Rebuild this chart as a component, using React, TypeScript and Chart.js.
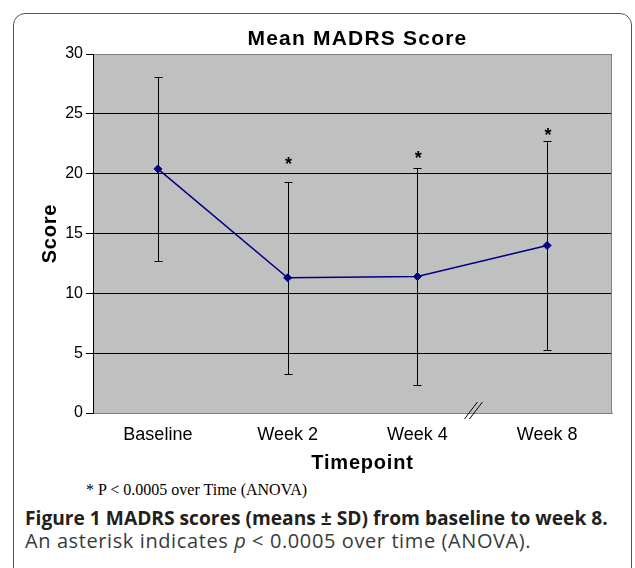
import React, { useEffect, useRef } from 'react';
import { Chart, registerables } from 'chart.js';

Chart.register(...registerables);

const categories = ['Baseline', 'Week 2', 'Week 4', 'Week 8'];
const meanScores = [20.4, 11.3, 11.4, 14.0];
const sdScores = [7.7, 8.0, 9.1, 8.7];
const yTicks = [0, 5, 10, 15, 20, 25, 30];
const asteriskLevels: (number | null)[] = [null, 21.2, 21.7, 23.6];

const chartTitle = 'Mean MADRS Score';
const yTitle = 'Score';
const xTitle = 'Timepoint';
const footnote = '* P < 0.0005 over Time (ANOVA)';
const captionBold = 'Figure 1 MADRS scores (means ± SD) from baseline to week 8.';

const SANS = '"Liberation Sans", Arial, Helvetica, sans-serif';

const decorPlugin = {
  id: 'decor',
  beforeDraw(chart: any) {
    const { ctx, chartArea: a } = chart;
    ctx.save();
    ctx.fillStyle = '#c0c0c0';
    ctx.fillRect(a.left, a.top, a.right - a.left, a.bottom - a.top);
    ctx.restore();
  },
  beforeDatasetsDraw(chart: any) {
    const { ctx, scales } = chart;
    const xs = scales.x;
    const ys = scales.y;
    ctx.save();
    ctx.strokeStyle = '#000000';
    ctx.lineWidth = 1;
    meanScores.forEach((m, i) => {
      const x = Math.round(xs.getPixelForValue(i)) + 0.5;
      const yt = Math.round(ys.getPixelForValue(m + sdScores[i])) + 0.5;
      const yb = Math.round(ys.getPixelForValue(m - sdScores[i])) + 0.5;
      ctx.beginPath();
      ctx.moveTo(x, yt);
      ctx.lineTo(x, yb);
      ctx.moveTo(x - 4, yt);
      ctx.lineTo(x + 4, yt);
      ctx.moveTo(x - 4, yb);
      ctx.lineTo(x + 4, yb);
      ctx.stroke();
    });
    ctx.restore();
  },
  afterDatasetsDraw(chart: any) {
    const { ctx, scales, chartArea: a } = chart;
    const xs = scales.x;
    const ys = scales.y;
    ctx.save();
    // right border of plot area
    ctx.strokeStyle = '#808080';
    ctx.lineWidth = 1;
    ctx.beginPath();
    ctx.moveTo(Math.round(a.right) - 0.5, a.top);
    ctx.lineTo(Math.round(a.right) - 0.5, a.bottom);
    ctx.stroke();

    // asterisks
    ctx.fillStyle = '#000000';
    ctx.font = 'bold 18px ' + SANS;
    ctx.textAlign = 'center';
    ctx.textBaseline = 'alphabetic';
    asteriskLevels.forEach((lvl, i) => {
      if (lvl === null) return;
      const x = xs.getPixelForValue(i) + 1;
      const y = ys.getPixelForValue(lvl);
      ctx.fillText('*', x, y + 0.58 * 18);
    });

    // axis break mark between Week 4 and Week 8
    const x4 = xs.getPixelForValue(2);
    const x8 = xs.getPixelForValue(3);
    const cx = x4 + (x8 - x4) * 0.44;
    const by = a.bottom;
    ctx.strokeStyle = '#000000';
    ctx.lineWidth = 1;
    ctx.beginPath();
    ctx.moveTo(cx - 10, by + 6);
    ctx.lineTo(cx + 3, by - 11);
    ctx.moveTo(cx - 5, by + 6);
    ctx.lineTo(cx + 8, by - 11);
    ctx.stroke();

    // chart title
    const cxArea = (a.left + a.right) / 2;
    ctx.textBaseline = 'middle';
    ctx.textAlign = 'center';
    (ctx as any).letterSpacing = '1.2px';
    ctx.font = 'bold 21px ' + SANS;
    ctx.fillText(chartTitle, cxArea + 5, 39);

    // x axis title
    (ctx as any).letterSpacing = '0.8px';
    ctx.font = 'bold 20px ' + SANS;
    ctx.fillText(xTitle, cxArea + 10, 463);

    // y axis title
    ctx.save();
    ctx.translate(50, (a.top + a.bottom) / 2);
    ctx.rotate(-Math.PI / 2);
    ctx.fillText(yTitle, 0, 0);
    ctx.restore();

    ctx.restore();
  },
};

function App() {
  const canvasRef = useRef<HTMLCanvasElement | null>(null);

  useEffect(() => {
    if (!canvasRef.current) return;
    Chart.defaults.font.family = SANS;
    const chart = new Chart(canvasRef.current, {
      type: 'line',
      data: {
        labels: categories,
        datasets: [
          {
            label: 'Mean MADRS',
            data: meanScores,
            borderColor: '#000080',
            backgroundColor: '#000080',
            borderWidth: 1.5,
            pointStyle: 'rectRot',
            pointRadius: 4,
            pointBackgroundColor: '#000080',
            pointBorderColor: '#000080',
            pointBorderWidth: 1,
            tension: 0,
          },
        ],
      },
      options: {
        responsive: false,
        animation: false,
        layout: { padding: { left: 0, right: 23, top: 54, bottom: 0 } },
        plugins: {
          legend: { display: false },
          title: { display: false },
          tooltip: { enabled: false },
        },
        scales: {
          x: {
            type: 'category',
            offset: true,
            grid: { display: false, drawTicks: false },
            border: { display: true, color: '#808080', width: 1 },
            ticks: {
              color: '#000000',
              font: { size: 18 },
              padding: 11,
              maxRotation: 0,
              autoSkip: false,
            },
            title: { display: false },
            afterFit: (s: any) => {
              s.height = 67;
            },
          },
          y: {
            min: 0,
            max: 30,
            afterBuildTicks: (s: any) => {
              s.ticks = yTicks.map((v) => ({ value: v }));
            },
            grid: {
              color: (c: any) => (c.tick && (c.tick.value === 30 || c.tick.value === 0) ? '#808080' : '#000000'),
              lineWidth: 1,
              tickColor: '#000000',
              tickLength: 7,
              drawTicks: true,
            },
            border: { display: true, color: '#000000', width: 1 },
            ticks: {
              color: '#000000',
              font: { size: 16 },
              padding: 3,
            },
            title: { display: false },
            afterFit: (s: any) => {
              s.width = 93;
            },
          },
        },
      },
      plugins: [decorPlugin],
    });
    return () => chart.destroy();
  }, []);

  return (
    <div
      style={{
        position: 'absolute',
        left: 0,
        top: 0,
        width: 635,
        height: 568,
        overflow: 'hidden',
        background: '#ffffff',
      }}
    >
      <div
        style={{
          position: 'absolute',
          left: 13,
          top: 13,
          width: 619,
          height: 620,
          border: '1.5px solid #555555',
          borderRadius: 12,
          boxSizing: 'border-box',
        }}
      />
      <canvas
        ref={canvasRef}
        width={635}
        height={480}
        style={{ position: 'absolute', left: 0, top: 0, width: 635, height: 480 }}
      />
      <div
        style={{
          position: 'absolute',
          left: 86,
          top: 480,
          lineHeight: '20px',
          fontFamily: '"Liberation Serif", "Times New Roman", serif',
          fontSize: 16,
          color: '#000000',
          whiteSpace: 'nowrap',
        }}
      >
        {footnote}
      </div>
      <div
        style={{
          position: 'absolute',
          left: 25,
          top: 506,
          lineHeight: '24px',
          fontFamily: '"Open Sans", "Noto Sans", sans-serif',
          fontSize: 19.2,
          fontWeight: 700,
          color: '#231f20',
          whiteSpace: 'nowrap',
        }}
      >
        {captionBold}
      </div>
      <div
        style={{
          position: 'absolute',
          left: 25,
          top: 529,
          lineHeight: '24px',
          fontFamily: '"Open Sans", "Noto Sans", sans-serif',
          fontSize: 20,
          letterSpacing: 0.6,
          fontWeight: 400,
          color: '#3a3a3a',
          whiteSpace: 'nowrap',
        }}
      >
        An asterisk indicates <i>p</i> &lt; 0.0005 over time (ANOVA).
      </div>
    </div>
  );
}

export default App;
